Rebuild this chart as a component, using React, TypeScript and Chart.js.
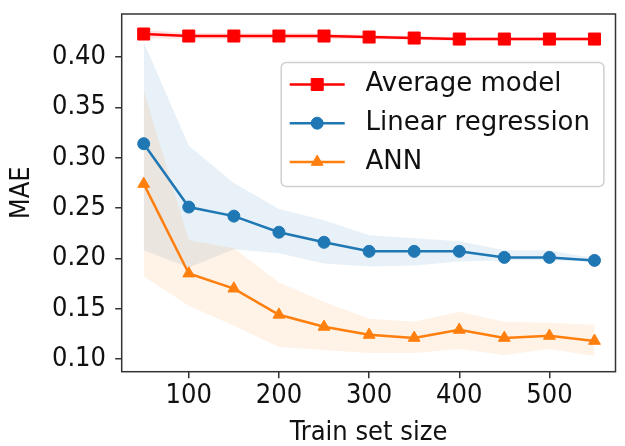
import React, { useEffect, useRef } from "react";
import { Chart, registerables } from "chart.js";
import { drawPoint } from "chart.js/helpers";

Chart.register(...registerables);

// ---------- data ----------
const trainSizes = [50, 100, 150, 200, 250, 300, 350, 400, 450, 500, 550];
const seriesNames = ["Average model", "Linear regression", "ANN"];

const avgMean = [0.423, 0.421, 0.421, 0.421, 0.421, 0.42, 0.419, 0.418, 0.418, 0.418, 0.418];
const avgUpper = [0.427, 0.424, 0.424, 0.424, 0.424, 0.422, 0.421, 0.42, 0.42, 0.42, 0.42];
const avgLower = [0.419, 0.418, 0.418, 0.418, 0.418, 0.418, 0.417, 0.416, 0.416, 0.416, 0.416];

const lrMean = [0.314, 0.251, 0.242, 0.226, 0.216, 0.207, 0.207, 0.207, 0.201, 0.201, 0.198];
const lrUpper = [0.415, 0.312, 0.275, 0.249, 0.238, 0.223, 0.22, 0.217, 0.208, 0.208, 0.2];
const lrLower = [0.208, 0.191, 0.209, 0.205, 0.195, 0.192, 0.193, 0.197, 0.198, 0.198, 0.197];

const annMean = [0.274, 0.185, 0.17, 0.144, 0.132, 0.124, 0.121, 0.129, 0.121, 0.123, 0.118];
const annUpper = [0.367, 0.218, 0.21, 0.176, 0.157, 0.14, 0.137, 0.147, 0.137, 0.136, 0.134];
const annLower = [0.182, 0.153, 0.133, 0.112, 0.109, 0.106, 0.106, 0.11, 0.104, 0.11, 0.103];

const xTicks = [100, 200, 300, 400, 500];
const yTicks = [0.1, 0.15, 0.2, 0.25, 0.3, 0.35, 0.4];

// ---------- styles ----------
const RED = "#ff0000";
const BLUE = "#1f77b4";
const ORANGE = "#ff7f0e";
const AXIS_FONT = "'DejaVu Sans Condensed', 'DejaVu Sans', sans-serif";
const LEGEND_FONT = "'DejaVu Sans', sans-serif";
const LINE_W = 2.5;

const pts = (ys: number[]) => trainSizes.map((x, i) => ({ x, y: ys[i] }));

const lineStyles = [
  { color: RED, pointStyle: "rect", radius: 8.5 },
  { color: BLUE, pointStyle: "circle", radius: 6 },
  { color: ORANGE, pointStyle: "triangle", radius: 6.8 },
];

function band(upper: number[], lower: number[], fillColor: string, order: number) {
  return [
    {
      label: "_upper",
      data: pts(upper),
      borderWidth: 0,
      borderColor: "rgba(0,0,0,0)",
      pointRadius: 0,
      fill: false,
      order,
    },
    {
      label: "_lower",
      data: pts(lower),
      borderWidth: 0,
      borderColor: "rgba(0,0,0,0)",
      backgroundColor: fillColor,
      pointRadius: 0,
      fill: "-1",
      order,
    },
  ];
}

function line(label: string, values: number[], idx: number, order: number) {
  const s = lineStyles[idx];
  return {
    label,
    data: pts(values),
    borderColor: s.color,
    backgroundColor: s.color,
    borderWidth: LINE_W,
    pointStyle: s.pointStyle,
    pointRadius: s.radius,
    pointBorderWidth: 1,
    pointBackgroundColor: s.color,
    pointBorderColor: s.color,
    fill: false,
    tension: 0,
    order,
  };
}

const framePlugin = {
  id: "frame",
  afterDatasetsDraw(chart: any) {
    const { ctx, chartArea: a } = chart;
    ctx.save();
    ctx.strokeStyle = "#333333";
    ctx.lineWidth = 1.5;
    ctx.strokeRect(a.left, a.top, a.right - a.left, a.bottom - a.top);
    ctx.restore();
  },
};

const legendPlugin = {
  id: "boxLegend",
  afterDraw(chart: any) {
    const { ctx, chartArea: a } = chart;
    const left = a.right - 334.3;
    const right = a.right - 11.6;
    const top = a.top + 48.5;
    const bottom = a.top + 172.5;
    ctx.save();
    ctx.beginPath();
    ctx.roundRect(left, top, right - left, bottom - top, 5);
    ctx.fillStyle = "rgba(255,255,255,0.8)";
    ctx.fill();
    ctx.strokeStyle = "#d0d0d0";
    ctx.lineWidth = 1.5;
    ctx.stroke();

    ctx.font = `26px ${LEGEND_FONT}`;
    ctx.textBaseline = "middle";
    ctx.textAlign = "left";
    seriesNames.forEach((name, i) => {
      const s = lineStyles[i];
      const y = top + 22 + i * 38.7;
      const x0 = left + 8.5;
      const x1 = left + 63.5;
      ctx.strokeStyle = s.color;
      ctx.fillStyle = s.color;
      ctx.lineWidth = LINE_W;
      ctx.beginPath();
      ctx.moveTo(x0, y);
      ctx.lineTo(x1, y);
      ctx.stroke();
      ctx.lineWidth = 1;
      drawPoint(ctx, { pointStyle: s.pointStyle as any, radius: s.radius, rotation: 0, borderWidth: 1 }, (x0 + x1) / 2, y);
      ctx.fillStyle = "#111111";
      ctx.fillText(name, left + 84.3, y);
    });
    ctx.restore();
  },
};

export default function App() {
  const ref = useRef<HTMLCanvasElement>(null);

  useEffect(() => {
    const canvas = ref.current;
    if (!canvas) return;
    const chart = new Chart(canvas, {
      type: "line",
      data: {
        datasets: [
          ...band(avgUpper, avgLower, "rgba(255,0,0,0.1)", 12),
          ...band(lrUpper, lrLower, "rgba(31,119,180,0.1)", 11),
          ...band(annUpper, annLower, "rgba(255,127,14,0.1)", 10),
          line(seriesNames[0], avgMean, 0, 3),
          line(seriesNames[1], lrMean, 1, 2),
          line(seriesNames[2], annMean, 2, 1),
        ] as any,
      },
      options: {
        responsive: false,
        animation: false,
        devicePixelRatio: 1,
        layout: { padding: { left: 0, top: 14, right: 1.7, bottom: 0 } },
        plugins: {
          legend: { display: false },
          tooltip: { enabled: false },
        },
        scales: {
          x: {
            type: "linear",
            min: 25.6,
            max: 573.3,
            afterBuildTicks: (axis: any) => {
              axis.ticks = xTicks.map((v) => ({ value: v }));
            },
            afterFit: (s: any) => {
              s.height = 74.3;
              s.paddingLeft = 0;
              s.paddingRight = 0;
            },
            grid: {
              display: true,
              drawOnChartArea: false,
              drawTicks: true,
              tickLength: 6.5,
              color: "#333333",
              lineWidth: 1.5,
            },
            border: { display: false },
            ticks: {
              color: "#111111",
              padding: 1.1,
              maxRotation: 0,
              autoSkip: false,
              font: { family: AXIS_FONT, size: 27 },
              callback: (v: any) => String(v),
            },
            title: {
              display: true,
              text: "Train set size",
              color: "#111111",
              font: { family: AXIS_FONT, size: 27, lineHeight: 0.93 },
              padding: { top: 0, bottom: 0 },
            },
          },
          y: {
            type: "linear",
            min: 0.08738,
            max: 0.4429,
            afterBuildTicks: (axis: any) => {
              axis.ticks = yTicks.map((v) => ({ value: v }));
            },
            afterFit: (s: any) => {
              s.width = 121.7;
              s.paddingTop = 0;
              s.paddingBottom = 0;
            },
            grid: {
              display: true,
              drawOnChartArea: false,
              drawTicks: true,
              tickLength: 6.5,
              color: "#333333",
              lineWidth: 1.5,
            },
            border: { display: false },
            ticks: {
              color: "#111111",
              padding: 9.2,
              autoSkip: false,
              font: { family: AXIS_FONT, size: 27 },
              callback: (v: any) => Number(v).toFixed(2),
            },
            title: {
              display: true,
              text: "MAE",
              color: "#111111",
              font: { family: AXIS_FONT, size: 27, lineHeight: 1.2 },
              padding: { top: 5.5, bottom: 0 },
            },
          },
        },
      },
      plugins: [framePlugin, legendPlugin],
    });
    return () => chart.destroy();
  }, []);

  return (
    <canvas
      ref={ref}
      width={625}
      height={446}
      style={{ position: "absolute", left: 0, top: 0, width: 625, height: 446 }}
    />
  );
}
